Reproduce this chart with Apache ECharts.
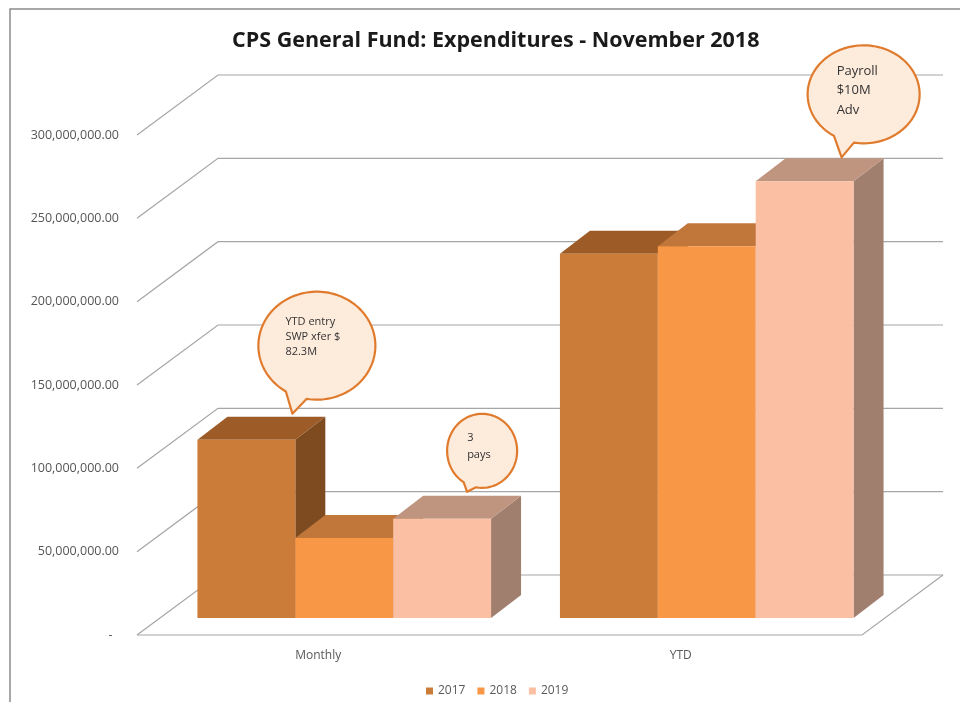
<!DOCTYPE html>
<html><head><meta charset="utf-8">
<script src="https://cdn.jsdelivr.net/npm/echarts@6/dist/echarts.min.js"></script>
<style>html,body{margin:0;padding:0;background:#fff}#c{width:960px;height:702px}</style>
</head><body><div id="c"></div>
<script>
// ---- data ----
const categories = ['Monthly', 'YTD'];
const years = ['2017', '2018', '2019'];
const values2017 = [107e6, 218.5e6];
const values2018 = [48e6, 223e6];
const values2019 = [59.5e6, 262e6];
const yTicks = [0, 50e6, 100e6, 150e6, 200e6, 250e6, 300e6];
const calloutTexts = ['YTD entry\nSWP xfer $\n82.3M', '3\npays', 'Payroll\n$10M\nAdv'];
const calloutCategory = [0, 0, 1];
const calloutYear = [0, 2, 2];

// ---- style / layout ----
const FRONT = ['#CB7C38', '#F89847', '#FBBFA3'];
const TOPC = ['#9C5B27', '#C1763A', '#BF9580'];
const SIDE = ['#7E4B21', '#9A5E2E', '#A17F6F'];
const DEPTH = [30, -23];     // bar depth projection
const BACK = [81, -60];      // back wall offset from front plane
const BAR_FRAC = 0.27;
const FONT = '"Open Sans", "Liberation Sans", sans-serif';
const calloutLayout = [
  {tip: [16, -3], center: [24.5, -68], r: [58.5, 54], text: [-31.5, -31.5], fs: 11, lh: 15},
  {tip: [-5, -4], center: [15, -41], r: [35, 37], text: [-15, -21.5], fs: 11, lh: 17},
  {tip: [7, -1], center: [22, -63], r: [56, 49], text: [-27, -33], fs: 13, lh: 19.5}
];
const seriesValues = [values2017, values2018, values2019];

function fmt(v) {
  if (v === 0) return '-  ';
  return v.toLocaleString('en-US', {minimumFractionDigits: 2, maximumFractionDigits: 2});
}

function renderGrid(params, api) {
  const v = api.value(1);
  const y = api.coord([0, v])[1];
  const cs = params.coordSys;
  const L = cs.x, R = cs.x + cs.width;
  const st = {stroke: '#A6A6A6', lineWidth: 1.2, fill: null};
  const children = [{type: 'polyline', shape: {points: [[L, y], [L + BACK[0], y + BACK[1]], [R + BACK[0], y + BACK[1]]]}, style: st}];
  if (v === 0) {
    children.push({type: 'polyline', shape: {points: [[L, y], [R, y], [R + BACK[0], y + BACK[1]]]}, style: st});
  }
  return {type: 'group', children};
}

function makeBarRenderer(yi) {
  return function (params, api) {
    const cat = api.value(0), v = api.value(1);
    const top = api.coord([cat, v]);
    const base = api.coord([cat, 0]);
    const band = api.size([1, 0])[0];
    const bw = band * BAR_FRAC;
    const x0 = top[0] - 1.5 * bw + yi * bw, x1 = x0 + bw;
    const yt = top[1], yb = base[1];
    const dx = DEPTH[0], dy = DEPTH[1];
    return {
      type: 'group',
      children: [
        {type: 'polygon', shape: {points: [[x1, yt], [x1 + dx, yt + dy], [x1 + dx, yb + dy], [x1, yb]]}, style: {fill: SIDE[yi]}},
        {type: 'polygon', shape: {points: [[x0, yt], [x1, yt], [x1 + dx, yt + dy], [x0 + dx, yt + dy]]}, style: {fill: TOPC[yi]}},
        {type: 'rect', shape: {x: x0, y: yt, width: bw, height: yb - yt}, style: {fill: FRONT[yi]}}
      ]
    };
  };
}

function renderCallout(params, api) {
  const i = params.dataIndex;
  const L = calloutLayout[i];
  const yi = calloutYear[i], cat = calloutCategory[i];
  const v = seriesValues[yi][cat];
  const top = api.coord([cat, v]);
  const band = api.size([1, 0])[0];
  const bw = band * BAR_FRAC;
  const cxBar = top[0] + (yi - 1) * bw;
  const tip = [cxBar + DEPTH[0] + L.tip[0], top[1] + DEPTH[1] + L.tip[1]];
  const cx = tip[0] + L.center[0], cy = tip[1] + L.center[1];
  const rx = L.r[0], ry = L.r[1];
  const a1 = 100 * Math.PI / 180, a2 = 122 * Math.PI / 180;
  const pts = [];
  const N = 120;
  for (let k = 0; k <= N; k++) {
    const a = a2 + (a1 + 2 * Math.PI - a2) * k / N;
    pts.push([cx + rx * Math.cos(a), cy + ry * Math.sin(a)]);
  }
  pts.push(tip);
  return {
    type: 'group',
    children: [
      {type: 'polygon', shape: {points: pts}, style: {fill: '#FDEBDC', stroke: '#E07B2E', lineWidth: 2.2, lineJoin: 'round'}},
      {type: 'text', style: {text: calloutTexts[i], x: cx + L.text[0], y: cy + L.text[1], fill: '#333333',
        fontSize: L.fs, fontFamily: FONT, lineHeight: L.lh, textAlign: 'left', textVerticalAlign: 'top'}}
    ]
  };
}

const chart = echarts.init(document.getElementById('c'), null, {renderer: 'canvas'});
chart.setOption({
  animation: false,
  backgroundColor: '#fff',
  title: {
    text: 'CPS General Fund: Expenditures - November 2018',
    left: 227, top: 25,
    textStyle: {fontFamily: FONT, fontWeight: 'bold', fontSize: 21.5, color: '#1a1a1a'}
  },
  legend: {
    left: 421, top: 680,
    itemWidth: 7, itemHeight: 7, itemGap: 12, icon: 'rect',
    textStyle: {fontFamily: FONT, fontSize: 12, color: '#595959'},
    data: years.map((y, i) => ({name: y, itemStyle: {color: FRONT[i]}}))
  },
  graphic: [{
    type: 'rect', shape: {x: 10, y: 9, width: 980, height: 720},
    style: {fill: null, stroke: '#8c8c8c', lineWidth: 1.5}, silent: true, z: -10
  }],
  grid: [
    {left: 137, right: 98, top: 135, bottom: 67},
    {left: 163, right: 72, top: 118, bottom: 84}
  ],
  xAxis: [
    {type: 'category', gridIndex: 0, data: categories,
      axisLine: {show: false}, axisTick: {show: false},
      axisLabel: {margin: 15, fontFamily: FONT, fontSize: 12, color: '#595959'}},
    {type: 'category', gridIndex: 1, data: categories, show: false}
  ],
  yAxis: [
    {type: 'value', gridIndex: 0, min: 0, max: 300e6, interval: 50e6,
      axisLine: {show: false}, axisTick: {show: false}, splitLine: {show: false},
      axisLabel: {margin: 18, fontFamily: FONT, fontSize: 12.5, color: '#555555', formatter: fmt}},
    {type: 'value', gridIndex: 1, min: 0, max: 300e6, interval: 50e6, show: false}
  ],
  series: [
    {type: 'custom', name: 'grid', xAxisIndex: 0, yAxisIndex: 0, clip: false, silent: true, z: 1,
      renderItem: renderGrid, data: yTicks.map(v => [0, v])},
    ...years.map((y, yi) => ({
      type: 'custom', name: y, xAxisIndex: 1, yAxisIndex: 1, clip: false, z: 2 + yi,
      itemStyle: {color: FRONT[yi]},
      renderItem: makeBarRenderer(yi),
      data: seriesValues[yi].map((v, ci) => [ci, v])
    })),
    {type: 'custom', name: 'callouts', xAxisIndex: 1, yAxisIndex: 1, clip: false, silent: true, z: 10,
      renderItem: renderCallout, data: calloutTexts.map((t, i) => [calloutCategory[i], seriesValues[calloutYear[i]][calloutCategory[i]]])}
  ]
});
</script>
</body></html>
